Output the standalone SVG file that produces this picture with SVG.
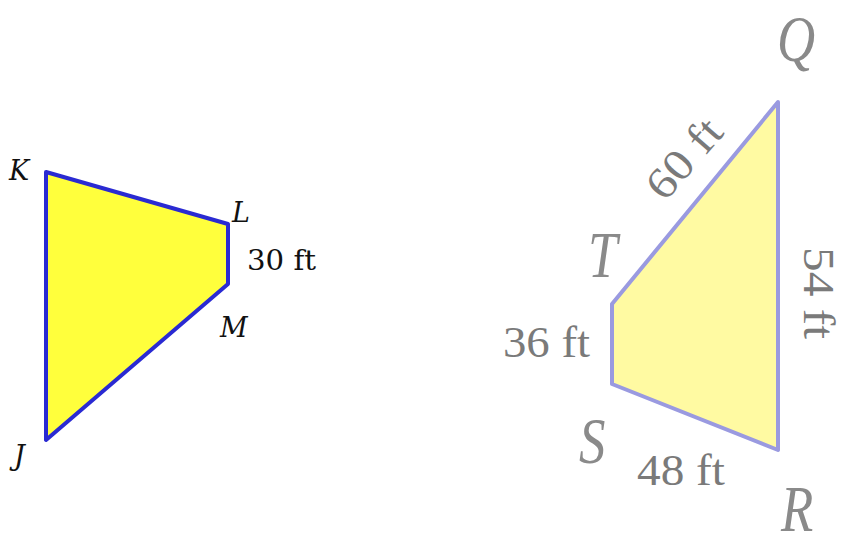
<svg xmlns="http://www.w3.org/2000/svg" width="842" height="546" viewBox="0 0 842 546">
<style>
.f1{fill:#ffff3c;stroke:#2a2ad2;stroke-width:4;stroke-linejoin:round}
.f2{fill:#fffaa2;stroke:#9a9ae0;stroke-width:4;stroke-linejoin:round}
.v1{font-family:"DejaVu Serif","Liberation Serif",serif;font-style:italic;font-size:27px;fill:#111}
.l1{font-family:"DejaVu Serif","Liberation Serif",serif;font-size:28px;fill:#111}
.v2{font-family:"Liberation Serif",serif;font-style:italic;font-size:66px;fill:#8a8a8a}
.l2{font-family:"Liberation Serif",serif;font-size:44px;fill:#7a7a7a}
</style>
<g id="JKLM">
<polygon class="f1" points="46,172 228,224 228,284 46,440"/>
<text class="v1" x="9" y="180">K</text>
<text class="v1" x="232" y="222">L</text>
<text class="v1" x="220" y="337">M</text>
<text class="v1" x="14" y="465">J</text>
<text class="l1" x="247" y="270" textLength="69" lengthAdjust="spacingAndGlyphs">30 ft</text>
</g>
<g id="QRST">
<polygon class="f2" points="778,102 612,304 612,384 778,450"/>
<text class="v2" transform="translate(777,61) scale(0.8,1)">Q</text>
<text class="v2" transform="translate(781,531) scale(0.8,1)">R</text>
<text class="v2" transform="translate(588,277) scale(0.8,1)">T</text>
<text class="v2" transform="translate(579,463) scale(0.8,1)">S</text>
<text class="l2" transform="translate(695,168) rotate(-49)" text-anchor="middle" textLength="92" lengthAdjust="spacingAndGlyphs">60 ft</text>
<text class="l2" transform="translate(804,293) rotate(90)" text-anchor="middle" textLength="92" lengthAdjust="spacingAndGlyphs">54 ft</text>
<text class="l2" x="503" y="357" textLength="87" lengthAdjust="spacingAndGlyphs">36 ft</text>
<text class="l2" x="637" y="485" textLength="88" lengthAdjust="spacingAndGlyphs">48 ft</text>
</g>
</svg>
